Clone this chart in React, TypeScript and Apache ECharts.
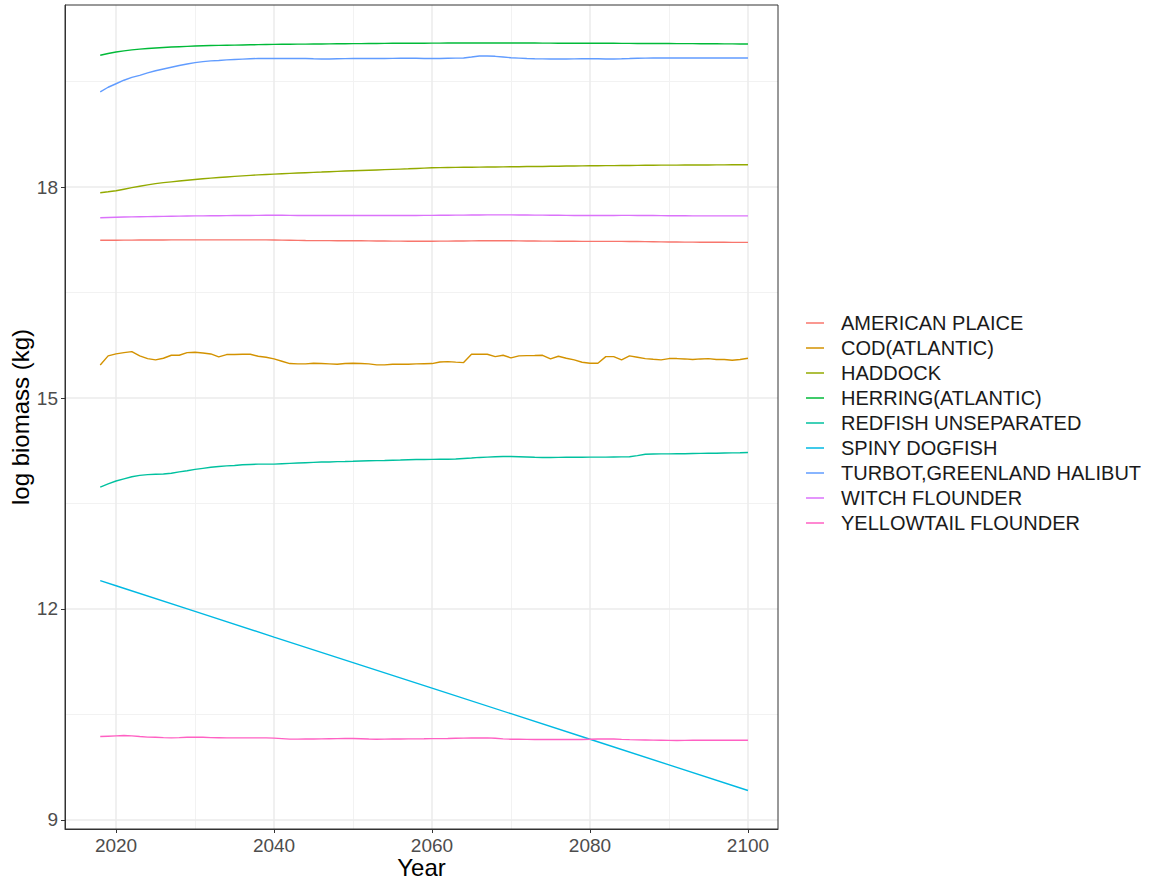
import React, { useEffect, useRef } from "react";
import * as echarts from "echarts";

const years: number[] = Array.from({ length: 83 }, (_, i) => 2018 + i);

const speciesNames = [
  "AMERICAN PLAICE",
  "COD(ATLANTIC)",
  "HADDOCK",
  "HERRING(ATLANTIC)",
  "REDFISH UNSEPARATED",
  "SPINY DOGFISH",
  "TURBOT,GREENLAND HALIBUT",
  "WITCH FLOUNDER",
  "YELLOWTAIL FLOUNDER",
];

const colors = ["#F8766D", "#D39200", "#93AA00", "#00BA38", "#00C19F", "#00B9E3", "#619CFF", "#DB72FB", "#FF61C3"];

const americanPlaice = [
  17.243, 17.244, 17.245, 17.246, 17.246, 17.247, 17.247, 17.248, 17.248, 17.249,
  17.249, 17.25, 17.25, 17.25, 17.25, 17.25, 17.25, 17.25, 17.25, 17.25,
  17.25, 17.249, 17.248, 17.246, 17.244, 17.242, 17.24, 17.239, 17.238, 17.238,
  17.237, 17.237, 17.237, 17.236, 17.235, 17.234, 17.233, 17.232, 17.231, 17.23,
  17.23, 17.23, 17.23, 17.231, 17.232, 17.233, 17.234, 17.235, 17.236, 17.237,
  17.237, 17.236, 17.236, 17.235, 17.234, 17.233, 17.232, 17.231, 17.23, 17.229,
  17.229, 17.228, 17.228, 17.228, 17.228, 17.228, 17.228, 17.227, 17.226, 17.224,
  17.223, 17.221, 17.22, 17.219, 17.218, 17.217, 17.216, 17.216, 17.215, 17.215,
  17.214, 17.214, 17.214,
];

const cod = [
  15.47, 15.6, 15.627, 15.646, 15.66, 15.6, 15.561, 15.542, 15.566, 15.608,
  15.608, 15.646, 15.651, 15.641, 15.627, 15.585, 15.618, 15.618, 15.622, 15.622,
  15.594, 15.58, 15.556, 15.523, 15.49, 15.485, 15.485, 15.495, 15.49, 15.485,
  15.48, 15.49, 15.495, 15.49, 15.485, 15.471, 15.471, 15.48, 15.48, 15.48,
  15.485, 15.488, 15.49, 15.513, 15.518, 15.51, 15.504, 15.622, 15.622, 15.622,
  15.589, 15.608, 15.57, 15.599, 15.603, 15.605, 15.608, 15.556, 15.594, 15.566,
  15.542, 15.509, 15.495, 15.495, 15.589, 15.589, 15.542, 15.599, 15.58, 15.561,
  15.551, 15.542, 15.561, 15.561, 15.556, 15.547, 15.556, 15.561, 15.547, 15.547,
  15.537, 15.547, 15.566,
];

const haddock = [
  17.92, 17.933, 17.948, 17.97, 17.992, 18.012, 18.032, 18.05, 18.063, 18.075,
  18.087, 18.098, 18.109, 18.118, 18.127, 18.136, 18.144, 18.152, 18.16, 18.167,
  18.174, 18.18, 18.185, 18.19, 18.195, 18.2, 18.205, 18.21, 18.214, 18.219,
  18.224, 18.228, 18.232, 18.236, 18.24, 18.244, 18.248, 18.252, 18.256, 18.26,
  18.265, 18.27, 18.275, 18.277, 18.279, 18.28, 18.282, 18.283, 18.284, 18.285,
  18.286, 18.288, 18.289, 18.29, 18.292, 18.293, 18.294, 18.296, 18.297, 18.299,
  18.3, 18.302, 18.303, 18.304, 18.305, 18.306, 18.307, 18.308, 18.309, 18.31,
  18.311, 18.312, 18.313, 18.313, 18.314, 18.314, 18.315, 18.315, 18.316, 18.316,
  18.317, 18.317, 18.317,
];

const herring = [
  19.876, 19.9, 19.922, 19.938, 19.951, 19.962, 19.971, 19.979, 19.986, 19.992,
  19.997, 20.002, 20.006, 20.01, 20.013, 20.016, 20.018, 20.02, 20.022, 20.024,
  20.026, 20.028, 20.03, 20.031, 20.032, 20.033, 20.034, 20.035, 20.036, 20.037,
  20.038, 20.039, 20.04, 20.041, 20.042, 20.043, 20.044, 20.045, 20.046, 20.046,
  20.047, 20.047, 20.048, 20.048, 20.049, 20.049, 20.05, 20.05, 20.05, 20.05,
  20.05, 20.05, 20.05, 20.05, 20.049, 20.049, 20.048, 20.048, 20.047, 20.047,
  20.046, 20.046, 20.046, 20.045, 20.045, 20.045, 20.044, 20.044, 20.043, 20.043,
  20.043, 20.042, 20.042, 20.041, 20.04, 20.04, 20.039, 20.038, 20.038, 20.037,
  20.037, 20.036, 20.036,
];

const redfish = [
  13.733, 13.78, 13.82, 13.85, 13.88, 13.9, 13.91, 13.915, 13.92, 13.93,
  13.95, 13.965, 13.985, 14.0, 14.015, 14.025, 14.035, 14.04, 14.05, 14.055,
  14.06, 14.06, 14.06, 14.065, 14.07, 14.075, 14.08, 14.085, 14.09, 14.09,
  14.095, 14.097, 14.1, 14.105, 14.108, 14.11, 14.112, 14.115, 14.118, 14.122,
  14.125, 14.125, 14.128, 14.13, 14.13, 14.132, 14.14, 14.147, 14.155, 14.16,
  14.165, 14.168, 14.168, 14.165, 14.162, 14.158, 14.155, 14.155, 14.156, 14.157,
  14.158, 14.158, 14.159, 14.16, 14.16, 14.162, 14.163, 14.165, 14.18, 14.2,
  14.204, 14.205, 14.206, 14.207, 14.208, 14.21, 14.212, 14.214, 14.215, 14.218,
  14.22, 14.222, 14.225,
];

const dogfishYears = [2018, 2020, 2030, 2040, 2050, 2060, 2070, 2080, 2090, 2100];
const dogfish = [12.402, 12.33, 11.965, 11.6, 11.237, 10.874, 10.51, 10.146, 9.782, 9.418];

const turbot = [
  19.354, 19.42, 19.47, 19.52, 19.56, 19.59, 19.625, 19.655, 19.68, 19.705,
  19.73, 19.75, 19.77, 19.785, 19.795, 19.8, 19.81, 19.815, 19.82, 19.825,
  19.83, 19.83, 19.83, 19.83, 19.83, 19.83, 19.828, 19.825, 19.823, 19.823,
  19.825, 19.827, 19.828, 19.829, 19.83, 19.83, 19.83, 19.831, 19.832, 19.833,
  19.832, 19.83, 19.828, 19.83, 19.833, 19.835, 19.836, 19.85, 19.865, 19.865,
  19.86, 19.85, 19.84, 19.835, 19.83, 19.826, 19.824, 19.822, 19.822, 19.822,
  19.824, 19.826, 19.826, 19.825, 19.823, 19.823, 19.825, 19.828, 19.832, 19.835,
  19.836, 19.836, 19.836, 19.836, 19.836, 19.836, 19.836, 19.836, 19.836, 19.836,
  19.836, 19.836, 19.836,
];

const witch = [
  17.565, 17.568, 17.571, 17.574, 17.576, 17.578, 17.58, 17.582, 17.584, 17.586,
  17.587, 17.589, 17.59, 17.591, 17.592, 17.593, 17.594, 17.595, 17.596, 17.597,
  17.598, 17.599, 17.6, 17.599, 17.598, 17.597, 17.597, 17.596, 17.596, 17.596,
  17.596, 17.596, 17.596, 17.596, 17.596, 17.596, 17.596, 17.596, 17.596, 17.596,
  17.597, 17.598, 17.598, 17.599, 17.6, 17.601, 17.602, 17.603, 17.604, 17.605,
  17.605, 17.605, 17.605, 17.604, 17.603, 17.602, 17.601, 17.6, 17.599, 17.598,
  17.597, 17.596, 17.596, 17.596, 17.596, 17.597, 17.598, 17.598, 17.597, 17.596,
  17.595, 17.594, 17.593, 17.592, 17.592, 17.591, 17.591, 17.591, 17.59, 17.59,
  17.59, 17.59, 17.59,
];

const yellowtail = [
  10.185, 10.19, 10.195, 10.199, 10.195, 10.185, 10.177, 10.175, 10.17, 10.166,
  10.17, 10.175, 10.176, 10.174, 10.17, 10.168, 10.166, 10.166, 10.166, 10.166,
  10.166, 10.166, 10.162, 10.155, 10.148, 10.148, 10.15, 10.151, 10.152, 10.154,
  10.156, 10.157, 10.157, 10.154, 10.15, 10.147, 10.148, 10.15, 10.151, 10.152,
  10.152, 10.153, 10.155, 10.156, 10.157, 10.16, 10.162, 10.164, 10.165, 10.166,
  10.16, 10.152, 10.147, 10.146, 10.145, 10.144, 10.143, 10.143, 10.143, 10.143,
  10.143, 10.143, 10.147, 10.15, 10.152, 10.15, 10.145, 10.141, 10.138, 10.136,
  10.134, 10.132, 10.13, 10.129, 10.131, 10.132, 10.133, 10.133, 10.133, 10.133,
  10.133, 10.133, 10.133,
];

const xMajorTicks = [2020, 2040, 2060, 2080, 2100];
const xMinorTicks = [2030, 2050, 2070, 2090];
const yMajorTicks = [9, 12, 15, 18];
const yMinorTicks = [10.5, 13.5, 16.5, 19.5];

const X_MIN = 2013.54;
const X_MAX = 2103.8;
const Y_MIN = 8.87;
const Y_MAX = 20.59;

const FONT = "Liberation Sans, Arial, sans-serif";

export default function App() {
  const ref = useRef<HTMLDivElement>(null);

  useEffect(() => {
    if (!ref.current) return;
    const chart = echarts.init(ref.current, undefined, { renderer: "svg" });

    const annual = [americanPlaice, cod, haddock, herring, redfish, null, turbot, witch, yellowtail];
    const series: any[] = speciesNames.map((name, i) => {
      let data: number[][];
      if (i === 5) {
        data = dogfishYears.map((y, k) => [y, dogfish[k]]);
      } else {
        const vals = annual[i] as number[];
        data = years.map((y, k) => [y, vals[k]]);
      }
      return {
        name,
        type: "line",
        data,
        xAxisIndex: 0,
        yAxisIndex: 0,
        showSymbol: false,
        symbol: "none",
        lineStyle: { width: 1.4, color: colors[i] },
        itemStyle: { color: colors[i] },
        z: 10,
      };
    });

    const option: any = {
      animation: false,
      backgroundColor: "#ffffff",
      textStyle: { fontFamily: FONT },
      grid: {
        left: 65,
        right: 378,
        top: 5,
        bottom: 52,
        containLabel: false,
        outerBoundsMode: "none",
        show: true,
        borderColor: "#333333",
        borderWidth: 1,
        backgroundColor: "transparent",
        z: 5,
      },
      legend: {
        orient: "vertical",
        left: 806,
        top: 313,
        padding: 0,
        icon: "rect",
        itemWidth: 18,
        itemHeight: 1.5,
        itemGap: 5,
        data: speciesNames,
        textStyle: {
          fontFamily: FONT,
          fontSize: 20,
          lineHeight: 20,
          color: "#1a1a1a",
          padding: [0, 0, 0, 12],
        },
      },
      xAxis: [
        {
          type: "value",
          min: X_MIN,
          max: X_MAX,
          name: "Year",
          nameLocation: "middle",
          nameGap: 26,
          nameMoveOverlap: false,
          nameTextStyle: { fontFamily: FONT, fontSize: 24, lineHeight: 24, color: "#000" },
          axisLine: { show: true, onZero: false, lineStyle: { color: "#333333", width: 1 } },
          axisTick: { show: true, length: 4, customValues: xMajorTicks, lineStyle: { color: "#333333" } },
          axisLabel: {
            customValues: xMajorTicks,
            formatter: (v: number) => String(v),
            fontFamily: FONT,
            fontSize: 19,
            color: "#4D4D4D",
            margin: 7,
          },
          splitLine: { show: true, lineStyle: { color: "#EBEBEB", width: 1.5 } },
          z: 3,
        },
        {
          type: "value",
          min: X_MIN,
          max: X_MAX,
          position: "bottom",
          axisLine: { show: false },
          axisTick: { show: false, customValues: xMinorTicks },
          axisLabel: { show: false, customValues: xMinorTicks },
          splitLine: { show: true, lineStyle: { color: "#F2F2F2", width: 1 } },
          z: 2,
        },
      ],
      yAxis: [
        {
          type: "value",
          min: Y_MIN,
          max: Y_MAX,
          name: "log biomass (kg)",
          nameLocation: "middle",
          nameGap: 33,
          nameMoveOverlap: false,
          nameTextStyle: { fontFamily: FONT, fontSize: 24, lineHeight: 24, color: "#000" },
          axisLine: { show: true, onZero: false, lineStyle: { color: "#333333", width: 1 } },
          axisTick: { show: true, length: 4, customValues: yMajorTicks, lineStyle: { color: "#333333" } },
          axisLabel: {
            customValues: yMajorTicks,
            formatter: (v: number) => String(v),
            fontFamily: FONT,
            fontSize: 19,
            color: "#4D4D4D",
            margin: 7,
          },
          splitLine: { show: true, lineStyle: { color: "#EBEBEB", width: 1.5 } },
          z: 3,
        },
        {
          type: "value",
          min: Y_MIN,
          max: Y_MAX,
          position: "left",
          axisLine: { show: false },
          axisTick: { show: false, customValues: yMinorTicks },
          axisLabel: { show: false, customValues: yMinorTicks },
          splitLine: { show: true, lineStyle: { color: "#F2F2F2", width: 1 } },
          z: 2,
        },
      ],
      series,
    };

    chart.setOption(option);
    return () => {
      chart.dispose();
    };
  }, []);

  return (
    <div
      ref={ref}
      style={{ position: "fixed", left: 0, top: 0, width: 1156, height: 881, background: "#fff" }}
    />
  );
}
